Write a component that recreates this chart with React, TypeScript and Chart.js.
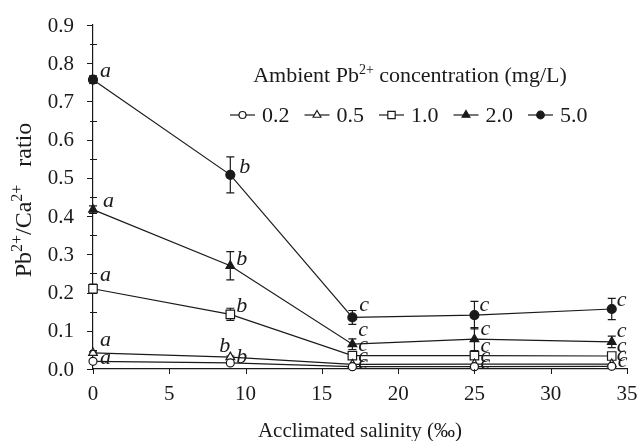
import React, { useEffect, useRef } from 'react';
import { Chart, registerables } from 'chart.js';
Chart.register(...registerables);

// ---------------- data ----------------
const salinity = [0, 9, 17, 25, 34];
const seriesNames = ['0.2', '0.5', '1.0', '2.0', '5.0'];
const pb02 = [0.020, 0.016, 0.006, 0.006, 0.007];
const pb05 = [0.042, 0.031, 0.012, 0.013, 0.013];
const pb10 = [0.210, 0.143, 0.035, 0.035, 0.034];
const pb20 = [0.417, 0.270, 0.065, 0.078, 0.071];
const pb50 = [0.757, 0.508, 0.135, 0.141, 0.157];
const err02 = [0.002, 0.002, 0.001, 0.001, 0.001];
const err05 = [0.003, 0.003, 0.002, 0.002, 0.002];
const err10 = [0.012, 0.016, 0.005, 0.004, 0.004];
const err20 = [0.010, 0.037, 0.014, 0.030, 0.015];
const err50 = [0.010, 0.047, 0.018, 0.036, 0.028];
const letters = ['a', 'b', 'c', 'c', 'c'];
const xTickValues = [0, 5, 10, 15, 20, 25, 30, 35];
const yTickValues = [0, 0.1, 0.2, 0.3, 0.4, 0.5, 0.6, 0.7, 0.8, 0.9];
const yMax = 0.9;

const values = [pb02, pb05, pb10, pb20, pb50];
const errors = [err02, err05, err10, err20, err50];

// ---------------- styles ----------------
const FONT = '"Liberation Serif", "Times New Roman", serif';
const INK = '#1a1a1a';
const markerStyles = [
  { style: 'circle', r: 4, fill: '#ffffff', lr: 3.5 },
  { style: 'triangle', r: 5, fill: '#ffffff', lr: 4.5 },
  { style: 'rect', r: 6, fill: '#ffffff', lr: 5.2 },
  { style: 'triangle', r: 5, fill: INK, lr: 4.5 },
  { style: 'circle', r: 4.5, fill: INK, lr: 3.8 },
];
// letter offsets (dx, dy) from each point, baseline-left
const letterOffsets = [
  [[7, 3], [6, 0], [6, 2], [6, 2], [6, 1]],
  [[7, -7], [-11, -5], [6, -2], [6, -2], [5, -3]],
  [[7, -8], [6, -2], [6, -5], [6, -4], [5, -4]],
  [[10, -3], [6, -1], [6, -8], [6, -4], [5, -5]],
  [[7, -3], [9, -2], [7, -6], [5, -4], [5, -3]],
];

function drawMarker(ctx: CanvasRenderingContext2D, style: string, x: number, y: number, r: number, fill: string) {
  ctx.save();
  ctx.beginPath();
  if (style === 'circle') {
    ctx.arc(x, y, r, 0, Math.PI * 2);
  } else if (style === 'triangle') {
    const h = r * 1.5;
    const w = r * Math.sqrt(3);
    ctx.moveTo(x, y - r);
    ctx.lineTo(x + w / 2, y - r + h);
    ctx.lineTo(x - w / 2, y - r + h);
    ctx.closePath();
  } else {
    const s = r * Math.SQRT1_2;
    ctx.rect(x - s, y - s, 2 * s, 2 * s);
  }
  ctx.fillStyle = fill;
  ctx.fill();
  ctx.lineWidth = 1.2;
  ctx.strokeStyle = INK;
  ctx.stroke();
  ctx.restore();
}

function richText(ctx: CanvasRenderingContext2D, parts: [string, boolean][], x: number, y: number, size: number, align: 'center' | 'left', supScale = 0.65) {
  const supSize = Math.round(size * supScale);
  let total = 0;
  const widths = parts.map(([t, sup]) => {
    ctx.font = `${sup ? supSize : size}px ${FONT}`;
    const w = ctx.measureText(t).width;
    total += w;
    return w;
  });
  let cx = align === 'center' ? x - total / 2 : x;
  ctx.textBaseline = 'alphabetic';
  ctx.textAlign = 'left';
  parts.forEach(([t, sup], i) => {
    ctx.font = `${sup ? supSize : size}px ${FONT}`;
    ctx.fillText(t, cx, sup ? y - size * 0.38 : y);
    cx += widths[i];
  });
}

const decorPlugin = {
  id: 'decor',
  beforeDatasetsDraw(chart: any) {
    const ctx: CanvasRenderingContext2D = chart.ctx;
    const xs = chart.scales.x;
    const ys = chart.scales.y;
    ctx.save();
    ctx.strokeStyle = INK;
    ctx.lineWidth = 1.2;
    values.forEach((vals, si) => {
      vals.forEach((v, i) => {
        const e = errors[si][i];
        const px = xs.getPixelForValue(salinity[i]);
        const top = ys.getPixelForValue(v + e);
        const bot = ys.getPixelForValue(Math.max(0, v - e));
        if (bot - top < 2) return;
        ctx.beginPath();
        ctx.moveTo(px, top);
        ctx.lineTo(px, bot);
        ctx.moveTo(px - 4, top);
        ctx.lineTo(px + 4, top);
        ctx.moveTo(px - 4, bot);
        ctx.lineTo(px + 4, bot);
        ctx.stroke();
      });
    });
    ctx.restore();
  },
  afterDraw(chart: any) {
    const ctx: CanvasRenderingContext2D = chart.ctx;
    const xs = chart.scales.x;
    const ys = chart.scales.y;
    const area = chart.chartArea;
    ctx.save();
    ctx.strokeStyle = INK;
    ctx.fillStyle = INK;
    ctx.lineWidth = 1;
    // y ticks + labels
    for (let k = 0; k <= 18; k++) {
      const v = k * 0.05;
      const py = Math.round(ys.getPixelForValue(v)) + 0.5;
      ctx.beginPath();
      if (k % 2 === 0) {
        ctx.moveTo(area.left - 6, py);
        ctx.lineTo(area.left, py);
      } else {
        ctx.moveTo(area.left - 3, py);
        ctx.lineTo(area.left + 4, py);
      }
      ctx.stroke();
    }
    ctx.font = `21px ${FONT}`;
    ctx.textAlign = 'right';
    ctx.textBaseline = 'middle';
    yTickValues.forEach((v) => {
      ctx.fillText(v.toFixed(1), area.left - 19, ys.getPixelForValue(v) + 1);
    });
    // x ticks + labels
    xTickValues.forEach((v) => {
      const px = Math.round(xs.getPixelForValue(v)) + 0.5;
      ctx.beginPath();
      ctx.moveTo(px, area.bottom);
      ctx.lineTo(px, area.bottom + 5);
      ctx.stroke();
    });
    ctx.textAlign = 'center';
    ctx.textBaseline = 'middle';
    xTickValues.forEach((v) => {
      ctx.fillText(String(v), xs.getPixelForValue(v), area.bottom + 25);
    });
    // x title
    ctx.font = `21px ${FONT}`;
    ctx.textAlign = 'center';
    ctx.textBaseline = 'alphabetic';
    ctx.fillText('Acclimated salinity (\u2030)', (area.left + area.right) / 2, 437);
    // y title
    ctx.save();
    ctx.translate(31, 200);
    ctx.rotate(-Math.PI / 2);
    richText(ctx, [['Pb', false], ['2+', true], ['/Ca', false], ['2+', true], ['   ratio', false]], 0, 0, 24, 'center', 0.68);
    ctx.restore();
    // legend title
    richText(ctx, [['Ambient Pb', false], ['2+', true], [' concentration (mg/L)', false]], 410, 82, 22, 'center');
    // legend items
    chart.data.datasets.forEach((ds: any, i: number) => {
      const sx = 230 + i * 74.5;
      const ly = 115;
      ctx.beginPath();
      ctx.lineWidth = 1.2;
      ctx.strokeStyle = INK;
      ctx.moveTo(sx, ly);
      ctx.lineTo(sx + 25, ly);
      ctx.stroke();
      const m = markerStyles[i];
      drawMarker(ctx, m.style, sx + 12.5, ly, m.lr, m.fill);
      ctx.font = `22px ${FONT}`;
      ctx.textAlign = 'left';
      ctx.textBaseline = 'middle';
      ctx.fillStyle = INK;
      ctx.fillText(ds.label, sx + 32, ly + 1);
    });
    // significance letters
    ctx.font = `italic 22px ${FONT}`;
    ctx.textAlign = 'left';
    ctx.textBaseline = 'alphabetic';
    ctx.fillStyle = INK;
    values.forEach((vals, si) => {
      vals.forEach((v, i) => {
        const px = xs.getPixelForValue(salinity[i]);
        const py = ys.getPixelForValue(v);
        const [dx, dy] = letterOffsets[si][i];
        ctx.fillText(letters[i], px + dx, py + dy);
      });
    });
    ctx.restore();
  },
};

export default function App() {
  const ref = useRef<HTMLCanvasElement | null>(null);
  useEffect(() => {
    document.body.style.margin = '0';
    const canvas = ref.current;
    if (!canvas) return;
    const datasets = values.map((vals, si) => {
      const m = markerStyles[si];
      return {
        label: seriesNames[si],
        data: vals.map((v, i) => ({ x: salinity[i], y: v })),
        borderColor: INK,
        borderWidth: 1.2,
        backgroundColor: m.fill,
        pointStyle: m.style,
        pointRadius: m.r,
        pointBackgroundColor: m.fill,
        pointBorderColor: INK,
        pointBorderWidth: 1.2,
        fill: false,
        tension: 0,
        clip: false,
      };
    });
    const chart = new Chart(canvas, {
      type: 'line',
      data: { datasets },
      options: {
        animation: false,
        responsive: false,
        maintainAspectRatio: false,
        layout: { padding: { top: 25, right: 13, left: 0, bottom: 0 } },
        plugins: { legend: { display: false }, tooltip: { enabled: false } },
        scales: {
          x: {
            type: 'linear',
            min: 0,
            max: 35,
            afterFit: (s: any) => { s.height = 72; },
            grid: { display: false, drawTicks: false },
            border: { display: true, color: INK, width: 1.2 },
            ticks: { display: false },
          },
          y: {
            type: 'linear',
            min: 0,
            max: yMax,
            afterFit: (s: any) => { s.width = 93; },
            grid: { display: false, drawTicks: false },
            border: { display: true, color: INK, width: 1.2 },
            ticks: { display: false, stepSize: 0.1 },
          },
        },
      },
      plugins: [decorPlugin],
    } as any);
    return () => chart.destroy();
  }, []);
  return (
    <div style={{ width: 640, height: 441 }}>
      <canvas ref={ref} width={640} height={441} style={{ display: 'block' }} />
    </div>
  );
}
